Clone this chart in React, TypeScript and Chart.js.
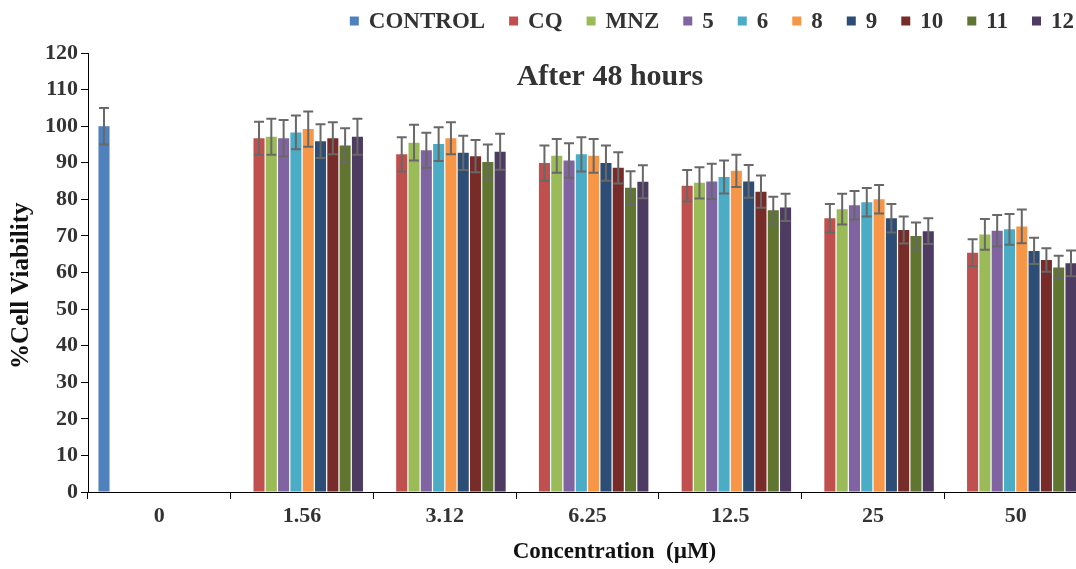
import React, { useEffect, useRef } from 'react';
import { Chart, registerables } from 'chart.js';

Chart.register(...registerables);

const categories = ['0', '1.56', '3.12', '6.25', '12.5', '25', '50'];

const controlValues = [100, null, null, null, null, null, null];
const controlErrors = [5, null, null, null, null, null, null];
const cqValues = [null, 96.7, 92.3, 89.9, 83.7, 74.8, 65.4];
const cqErrors = [null, 4.5, 4.7, 4.8, 4.3, 3.9, 3.7];
const mnzValues = [null, 97.1, 95.5, 91.9, 84.5, 77.3, 70.4];
const mnzErrors = [null, 4.9, 4.9, 4.6, 4.3, 4.2, 4.2];
const c5Values = [null, 96.7, 93.4, 90.6, 84.9, 78.4, 71.4];
const c5Errors = [null, 5.0, 4.8, 4.7, 4.8, 3.9, 4.3];
const c6Values = [null, 98.3, 95.1, 92.3, 86.1, 79.2, 71.8];
const c6Errors = [null, 4.6, 4.6, 4.7, 4.5, 3.9, 4.2];
const c8Values = [null, 99.2, 96.7, 91.9, 87.8, 80.0, 72.6];
const c8Errors = [null, 4.8, 4.4, 4.6, 4.4, 3.9, 4.6];
const c9Values = [null, 95.9, 92.7, 89.9, 84.9, 74.8, 65.9];
const c9Errors = [null, 4.6, 4.7, 4.8, 4.5, 3.9, 3.6];
const c10Values = [null, 96.7, 91.8, 88.6, 82.1, 71.6, 63.4];
const c10Errors = [null, 4.4, 4.4, 4.3, 4.4, 3.7, 3.2];
const c11Values = [null, 94.7, 90.2, 83.2, 77.0, 70.0, 61.4];
const c11Errors = [null, 4.7, 4.8, 4.5, 3.7, 3.7, 3.2];
const c12Values = [null, 97.1, 93.0, 84.8, 77.8, 71.3, 62.5];
const c12Errors = [null, 4.9, 4.9, 4.5, 3.7, 3.5, 3.5];

const seriesNames = ['CONTROL', 'CQ', 'MNZ', '5', '6', '8', '9', '10', '11', '12'];
const seriesValues = [controlValues, cqValues, mnzValues, c5Values, c6Values, c8Values, c9Values, c10Values, c11Values, c12Values];
const seriesErrors = [controlErrors, cqErrors, mnzErrors, c5Errors, c6Errors, c8Errors, c9Errors, c10Errors, c11Errors, c12Errors];
const seriesColors = ['#4F81BD', '#C0504D', '#9BBB59', '#8064A2', '#4BACC6', '#F79646', '#2C4D75', '#772C2A', '#5F7530', '#4D3B62'];

const chartTitle = 'After 48 hours';
const yTitle = '%Cell Viability';
const xTitle = 'Concentration  (\u00B5M)';
const yMin = 0;
const yMax = 120;
const yStep = 10;

const FONT = '"Liberation Serif", "Times New Roman", serif';
const TEXT = '#333333';

const errorBarPlugin = {
  id: 'errorBars',
  afterDatasetsDraw(chart: any) {
    const { ctx } = chart;
    const yScale = chart.scales.y;
    chart.data.datasets.forEach((ds: any, di: number) => {
      const meta = chart.getDatasetMeta(di);
      meta.data.forEach((bar: any, i: number) => {
        const v = ds.data[i];
        const e = ds.errors ? ds.errors[i] : null;
        if (v == null || e == null) return;
        const x = bar.x;
        const yt = yScale.getPixelForValue(v + e);
        const yb = yScale.getPixelForValue(v - e);
        const half = bar.width * 0.45;
        ctx.save();
        ctx.strokeStyle = '#686868';
        ctx.lineWidth = 2;
        ctx.beginPath();
        ctx.moveTo(x, yt);
        ctx.lineTo(x, yb);
        ctx.moveTo(x - half, yt);
        ctx.lineTo(x + half, yt);
        ctx.moveTo(x - half, yb);
        ctx.lineTo(x + half, yb);
        ctx.stroke();
        ctx.restore();
      });
    });
  },
};

const textPlugin = {
  id: 'textOverlay',
  afterDraw(chart: any) {
    const { ctx, chartArea } = chart;
    ctx.save();
    // chart title inside plot area
    ctx.font = `bold 30px ${FONT}`;
    ctx.fillStyle = TEXT;
    ctx.textAlign = 'center';
    ctx.textBaseline = 'middle';
    ctx.fillText(chartTitle, chartArea.left + chartArea.width * 0.5225, 77);

    // axis titles
    ctx.fillStyle = '#111';
    ctx.font = `bold 23px ${FONT}`;
    ctx.fillText(xTitle, chartArea.left + chartArea.width * 0.527, 552);
    ctx.save();
    ctx.translate(22, chartArea.top + chartArea.height * 0.53);
    ctx.rotate(-Math.PI / 2);
    ctx.font = `bold 25px ${FONT}`;
    ctx.fillText(yTitle, 0, 0);
    ctx.restore();

    // legend
    ctx.font = `bold 23px ${FONT}`;
    ctx.textAlign = 'left';
    const box = 9;
    const gapText = 10;
    const gapItem = 24;
    const items = chart.data.datasets.map((d: any) => ({ label: d.label, color: d.backgroundColor }));
    const widths = items.map((it: any) => box + gapText + ctx.measureText(it.label).width);
    const total = widths.reduce((a: number, b: number) => a + b, 0) + gapItem * (items.length - 1);
    let x = 1074 - total;
    const yc = 21;
    items.forEach((it: any, i: number) => {
      ctx.fillStyle = it.color;
      ctx.fillRect(x, yc - box / 2, box, box);
      ctx.fillStyle = TEXT;
      ctx.fillText(it.label, x + box + gapText, yc + 1);
      x += widths[i] + gapItem;
    });
    ctx.restore();
  },
};

export default function App() {
  const ref = useRef<HTMLCanvasElement | null>(null);
  useEffect(() => {
    if (!ref.current) return;
    const chart = new Chart(ref.current, {
      type: 'bar',
      data: {
        labels: categories,
        datasets: seriesNames.map((name, i) => ({
          label: name,
          data: seriesValues[i],
          errors: seriesErrors[i],
          backgroundColor: seriesColors[i],
          borderWidth: 0,
          categoryPercentage: 0.862,
          barPercentage: 0.9,
        })) as any,
      },
      options: {
        responsive: false,
        animation: false,
        devicePixelRatio: 1,
        layout: { padding: { top: 53, right: 8, left: 0, bottom: 0 } },
        plugins: {
          legend: { display: false },
          tooltip: { enabled: false },
          title: { display: false },
        },
        scales: {
          x: {
            afterFit: (s: any) => { s.height = 77; },
            grid: { display: true, drawOnChartArea: false, drawTicks: true, tickLength: 7, color: '#000', offset: true },
            border: { display: true, color: '#000', width: 1 },
            ticks: { color: TEXT, font: { family: FONT, size: 22, weight: 'bold' }, padding: 4 },
            title: { display: false, text: xTitle },
          },
          y: {
            min: yMin,
            max: yMax,
            afterFit: (s: any) => { s.width = 88; },
            grid: { display: true, drawOnChartArea: false, drawTicks: true, tickLength: 7, color: '#000' },
            border: { display: true, color: '#000', width: 1 },
            ticks: { stepSize: yStep, color: TEXT, font: { family: FONT, size: 22, weight: 'bold' }, padding: 3 },
            title: { display: false, text: yTitle },
          },
        },
      },
      plugins: [errorBarPlugin, textPlugin],
    });
    return () => chart.destroy();
  }, []);
  return (
    <div style={{ position: 'fixed', left: 0, top: 0, width: 1076, height: 569, overflow: 'hidden', background: '#fff' }}>
      <canvas ref={ref} width={1095} height={569} style={{ display: 'block' }} />
    </div>
  );
}
